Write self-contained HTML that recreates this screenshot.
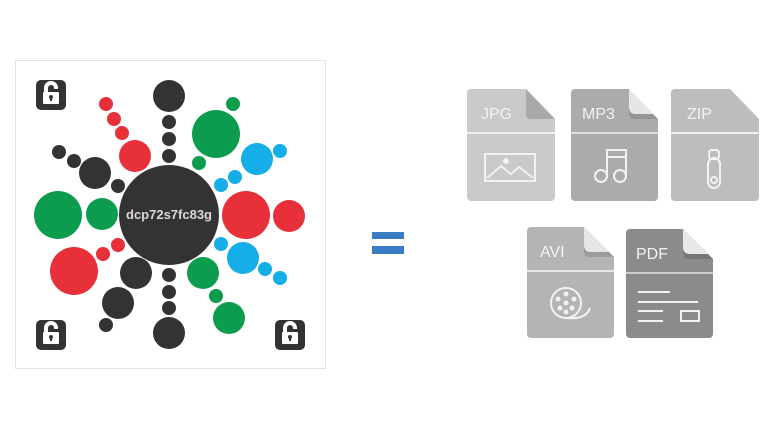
<!DOCTYPE html>
<html><head><meta charset="utf-8"><style>
html,body{margin:0;padding:0;background:#fff;width:768px;height:423px;overflow:hidden}
svg{display:block}
</style></head><body>
<svg width="768" height="423" viewBox="0 0 768 423" xmlns="http://www.w3.org/2000/svg">
<rect x="15.5" y="60.5" width="310" height="308" fill="#fff" stroke="#e2e2e2"/>
<g fill="#333">
<circle cx="169" cy="96" r="16"/><circle cx="169" cy="122" r="7"/><circle cx="169" cy="139" r="7"/><circle cx="169" cy="156" r="7"/>
<circle cx="169" cy="333" r="16"/><circle cx="169" cy="275" r="7"/><circle cx="169" cy="292" r="7"/><circle cx="169" cy="308" r="7"/>
<circle cx="59" cy="152" r="7"/><circle cx="74" cy="161" r="7"/><circle cx="95" cy="173" r="16"/><circle cx="118" cy="186" r="7"/>
<circle cx="136" cy="273" r="16"/><circle cx="118" cy="303" r="16"/><circle cx="106" cy="325" r="7"/>
</g>
<g fill="#e8303a">
<circle cx="106" cy="104" r="7"/><circle cx="114" cy="119" r="7"/><circle cx="122" cy="133" r="7"/><circle cx="135" cy="156" r="16"/>
<circle cx="74" cy="271" r="24"/><circle cx="103" cy="254" r="7"/><circle cx="118" cy="245" r="7"/>
<circle cx="246" cy="215" r="24"/><circle cx="289" cy="216" r="16"/>
</g>
<g fill="#0c9c4e">
<circle cx="58" cy="215" r="24"/><circle cx="102" cy="214" r="16"/>
<circle cx="216" cy="134" r="24"/><circle cx="233" cy="104" r="7"/><circle cx="199" cy="163" r="7"/>
<circle cx="203" cy="273" r="16"/><circle cx="216" cy="296" r="7"/><circle cx="229" cy="318" r="16"/>
</g>
<g fill="#16aee8">
<circle cx="221" cy="185" r="7"/><circle cx="235" cy="177" r="7"/><circle cx="257" cy="159" r="16"/><circle cx="280" cy="151" r="7"/>
<circle cx="221" cy="244" r="7"/><circle cx="243" cy="258" r="16"/><circle cx="265" cy="269" r="7"/><circle cx="280" cy="278" r="7"/>
</g>
<circle cx="169" cy="215" r="50" fill="#333"/>
<text x="169" y="219" text-anchor="middle" font-family="Liberation Sans, sans-serif" font-size="13" font-weight="bold" fill="#d8d8d8">dcp72s7fc83g</text>
<g id="lk">
<rect x="36" y="80" width="30" height="30" rx="5" fill="#333"/>
<path d="M44 92 v-4 a7 7 0 0 1 14 0 v1 h-4 v-1 a3 3 0 0 0 -6 0 v4z" fill="#fff"/>
<rect x="43" y="92" width="16" height="12" rx="1" fill="#fff"/>
<circle cx="51" cy="97" r="2" fill="#333"/><rect x="50" y="97" width="2" height="4" fill="#333"/>
</g>
<use href="#lk" transform="translate(0,240)"/>
<use href="#lk" transform="translate(239,240)"/>
<rect x="372" y="232" width="32" height="7" fill="#3a7cc4"/>
<rect x="372" y="246" width="32" height="8" fill="#3a7cc4"/>
<g font-family="Liberation Sans, sans-serif" font-size="16" fill="#f2f2f2">
<path d="M471 89 h55 l29 30 v78 a4 4 0 0 1 -4 4 h-80 a4 4 0 0 1 -4 -4 v-104 a4 4 0 0 1 4 -4z" fill="#c9c9c9"/>
<path d="M526 89 l29 30 h-24 q-5 0 -5 -5z" fill="#a9a9a9"/>
<rect x="467" y="132" width="88" height="2" fill="#eee"/>
<text x="481" y="119">JPG</text>
<rect x="485" y="154" width="50" height="27" fill="none" stroke="#f2f2f2" stroke-width="2"/>
<path d="M487 178 l14 -12 l10 8 l8 -7 l14 11" fill="none" stroke="#f2f2f2" stroke-width="2"/>
<circle cx="506" cy="161" r="3" fill="#f2f2f2"/>
<path d="M575 89 h54 l29 30 v78 a4 4 0 0 1 -4 4 h-79 a4 4 0 0 1 -4 -4 v-104 a4 4 0 0 1 4 -4z" fill="#ababab"/>
<path d="M629 89 l29 30 h-24 q-5 0 -5 -5z" fill="#e6e6e6"/>
<path d="M629 107 q0 7 7 7 h17 l5 5 h-24 q-5 0 -5 -5z" fill="#959595"/>
<rect x="571" y="132" width="87" height="2" fill="#ddd"/>
<text x="582" y="119">MP3</text>
<g fill="none" stroke="#f2f2f2" stroke-width="2"><circle cx="601" cy="176" r="6"/><circle cx="620" cy="176" r="6"/><path d="M607 176 v-26 h19 v26 M607 157 h19"/></g>
<path d="M675 89 h55 l29 30 v78 a4 4 0 0 1 -4 4 h-80 a4 4 0 0 1 -4 -4 v-104 a4 4 0 0 1 4 -4z" fill="#bdbdbd"/>
<rect x="671" y="132" width="88" height="2" fill="#eee"/>
<text x="687" y="119">ZIP</text>
<g fill="none" stroke="#f2f2f2" stroke-width="2"><rect x="709" y="150" width="10" height="9" rx="3"/><rect x="708" y="158" width="12" height="30" rx="6"/><circle cx="714" cy="180" r="3"/></g>
<path d="M531 227 h53 l30 30 v77 a4 4 0 0 1 -4 4 h-79 a4 4 0 0 1 -4 -4 v-103 a4 4 0 0 1 4 -4z" fill="#b4b4b4"/>
<path d="M584 227 l30 30 h-25 q-5 0 -5 -5z" fill="#e6e6e6"/>
<path d="M584 245 q0 7 7 7 h18 l5 5 h-25 q-5 0 -5 -5z" fill="#9b9b9b"/>
<rect x="527" y="270" width="87" height="2" fill="#e4e4e4"/>
<text x="540" y="257">AVI</text>
<g fill="none" stroke="#f2f2f2" stroke-width="2"><circle cx="566" cy="303" r="15"/><path d="M566 318 q20 2 24 -10"/></g>
<g fill="#f2f2f2"><circle cx="566" cy="303" r="2.5"/><circle cx="566" cy="294" r="2.5"/><circle cx="566" cy="312" r="2.5"/><circle cx="558" cy="299" r="2.5"/><circle cx="574" cy="299" r="2.5"/><circle cx="560" cy="308" r="2.5"/><circle cx="572" cy="308" r="2.5"/></g>
<path d="M630 229 h53 l30 30 v75 a4 4 0 0 1 -4 4 h-79 a4 4 0 0 1 -4 -4 v-101 a4 4 0 0 1 4 -4z" fill="#8b8b8b"/>
<path d="M683 229 l30 30 h-25 q-5 0 -5 -5z" fill="#e8e8e8"/>
<path d="M683 247 q0 7 7 7 h18 l5 5 h-25 q-5 0 -5 -5z" fill="#777"/>
<rect x="626" y="272" width="87" height="2" fill="#ccc"/>
<text x="636" y="259">PDF</text>
<g fill="none" stroke="#f2f2f2" stroke-width="2"><path d="M638 292 h32 M638 302 h60 M638 311 h25 M638 321 h25"/><rect x="681" y="311" width="18" height="10"/></g>
</g>
</svg>
</body></html>
